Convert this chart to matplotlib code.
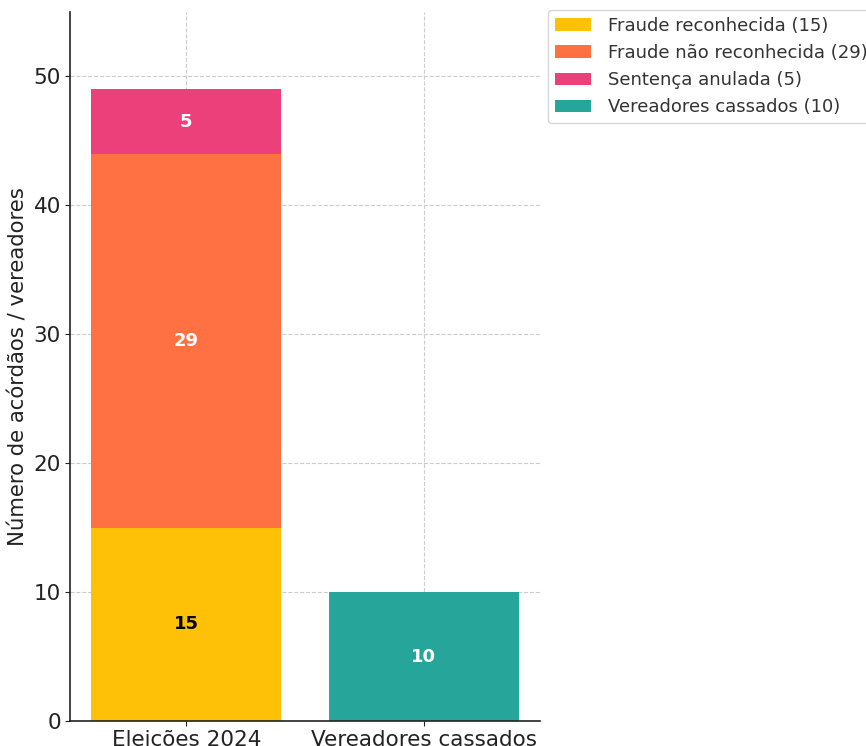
import matplotlib.pyplot as plt

categories = ["Eleições 2024", "Vereadores cassados"]
fraude_rec = [15, 0]
fraude_nao_rec = [29, 0]
sentenca_anulada = [5, 0]
vereadores = [0, 10]

labels = ["Fraude reconhecida (15)", "Fraude não reconhecida (29)",
          "Sentença anulada (5)", "Vereadores cassados (10)"]
colors = ["#FFC107", "#FF7043", "#EC407A", "#26A69A"]

fig = plt.figure(figsize=(8.66, 7.46), dpi=100)
ax = fig.add_axes([70 / 866, 25 / 746, 470 / 866, 709 / 746])

x = [0, 1]
b1 = ax.bar(x[0], fraude_rec[0], width=0.8, color=colors[0], label=labels[0], zorder=2)
b2 = ax.bar(x[0], fraude_nao_rec[0], bottom=fraude_rec[0], width=0.8, color=colors[1],
            label=labels[1], zorder=2)
b3 = ax.bar(x[0], sentenca_anulada[0], bottom=fraude_rec[0] + fraude_nao_rec[0], width=0.8,
            color=colors[2], label=labels[2], zorder=2)
b4 = ax.bar(x[1], vereadores[1], width=0.8, color=colors[3], label=labels[3], zorder=2)

ax.bar_label(b1, labels=[str(fraude_rec[0])], label_type="center", color="black",
             fontsize=13, fontweight="bold")
ax.bar_label(b2, labels=[str(fraude_nao_rec[0])], label_type="center", color="white",
             fontsize=13, fontweight="bold")
ax.bar_label(b3, labels=[str(sentenca_anulada[0])], label_type="center", color="white",
             fontsize=13, fontweight="bold")
ax.bar_label(b4, labels=[str(vereadores[1])], label_type="center", color="white",
             fontsize=13, fontweight="bold")

ax.set_xticks(x)
ax.set_xticklabels(categories, fontsize=15.5)
ax.tick_params(axis="y", labelsize=15.5)
ax.tick_params(colors="#222222", pad=3)
ax.set_ylim(0, 55)
ax.set_xlim(-0.49, 1.49)
ax.set_ylabel("Número de acórdãos / vereadores", fontsize=15.3, color="#222222")
ax.grid(True, linestyle="--", color="#cccccc", linewidth=0.8, zorder=0)
ax.set_axisbelow(True)
for s in ["top", "right"]:
    ax.spines[s].set_visible(False)
ax.spines["left"].set_linewidth(1.2)
ax.spines["bottom"].set_linewidth(1.2)
ax.spines["left"].set_color("#222222")
ax.spines["bottom"].set_color("#222222")

leg = ax.legend(loc="upper left", bbox_to_anchor=(1.017, 1.003), borderaxespad=0,
                fontsize=13, frameon=True, borderpad=0.4, handlelength=2.0,
                handletextpad=0.9)
for t in leg.get_texts():
    t.set_color("#333333")

fig.savefig("out.png", dpi=100)
